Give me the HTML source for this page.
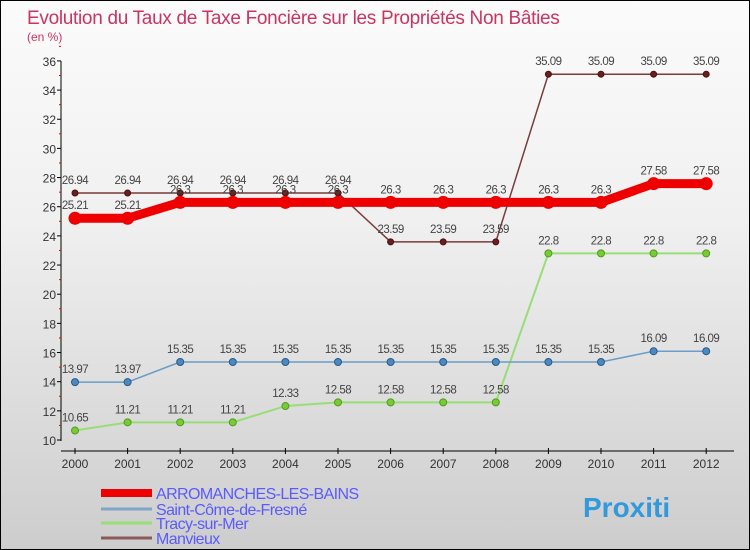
<!DOCTYPE html>
<html><head><meta charset="utf-8"><style>
body{margin:0}
#c{width:748px;height:548px;border:1px solid #000;background:linear-gradient(#fbfbfb,#f0f0f0 40%,#cdcdcd);position:relative;overflow:hidden;font-family:"Liberation Sans",sans-serif}
</style></head><body>
<div id="c">
<svg id="s" width="748" height="548" style="position:absolute;left:0;top:0">
<text x="26" y="23" font-size="19" letter-spacing="-0.3" fill="#c8355f">Evolution du Taux de Taxe Foncière sur les Propriétés Non Bâties</text>
<text x="26" y="40" font-size="12" fill="#c8355f">(en %)</text>
<g id="g"></g>
</svg>
</div>
<script>
const years=[2000,2001,2002,2003,2004,2005,2006,2007,2008,2009,2010,2011,2012];
const yTicks=[10,12,14,16,18,20,22,24,26,28,30,32,34,36];
const arro=[25.21,25.21,26.3,26.3,26.3,26.3,26.3,26.3,26.3,26.3,26.3,27.58,27.58];
const saint=[13.97,13.97,15.35,15.35,15.35,15.35,15.35,15.35,15.35,15.35,15.35,16.09,16.09];
const tracy=[10.65,11.21,11.21,11.21,12.33,12.58,12.58,12.58,12.58,22.8,22.8,22.8,22.8];
const manv=[26.94,26.94,26.94,26.94,26.94,26.94,23.59,23.59,23.59,35.09,35.09,35.09,35.09];
const names=["ARROMANCHES-LES-BAINS","Saint-Côme-de-Fresné","Tracy-sur-Mer","Manvieux"];
const NS="http://www.w3.org/2000/svg",g=document.getElementById('g');
const X=i=>74+i*52.6, Y=v=>439-(v-10)*14.58;
function el(t,a,p){const e=document.createElementNS(NS,t);for(const k in a)e.setAttribute(k,a[k]);(p||g).appendChild(e);return e;}
let ax=el('line',{x1:60,y1:60,x2:60,y2:440,stroke:'#000'});


let xa=el('line',{x1:60,y1:450,x2:733,y2:450,stroke:'#000'});


yTicks.forEach(v=>{el('line',{x1:56,x2:60,y1:Y(v),y2:Y(v),stroke:'#000'});el('line',{x1:58,x2:60,y1:Y(v+1),y2:Y(v+1),stroke:'#e00'});
 const t=el('text',{x:55,y:Y(v)+5,'font-size':12,fill:'#333','text-anchor':'end'});t.textContent=v;
 
 });
years.forEach((y,i)=>{el('line',{x1:X(i),x2:X(i),y1:447,y2:453,stroke:'#000'});
 const t=el('text',{x:X(i),y:467,'font-size':12,fill:'#333','text-anchor':'middle'});t.textContent=y;
 
 });
function series(d,col,w,dot,name){
 const p=el('polyline',{points:d.map((v,i)=>X(i)+','+Y(v)).join(' '),fill:'none',stroke:col,'stroke-width':w,'stroke-linejoin':'round'});
 
 
 d.forEach((v,i)=>{const c=el('circle',{cx:X(i),cy:Y(v),r:dot.r,fill:dot.f,stroke:dot.s});
  
  
  const t=el('text',{x:X(i),y:Y(v)-9,'font-size':11.5,fill:'#444','text-anchor':'middle','letter-spacing':'-0.5'});t.textContent=v;
  
  });
}
series(manv,'#7a3b3b',1.5,{r:3,f:'#6b1e1e',s:'#4a1010'},'manvieux');
series(tracy,'#99dd77',2,{r:3.5,f:'#77cc33',s:'#559922'},'tracy');
series(saint,'#6a9ec8',1.5,{r:3.5,f:'#4a8ac0',s:'#2a5a88'},'saint-come');
series(arro,'#ee0000',9,{r:6,f:'#ee0000',s:'#ee0000'},'arromanches');
const cols=['#ee0000','#7fa6c8','#99dd77','#8a5a5a'],ws=[8,3,3,3],ly=[492,508,522,537];
names.forEach((n,i)=>{const l=el('line',{x1:100,x2:151,y1:ly[i],y2:ly[i],stroke:cols[i],'stroke-width':ws[i]});
 
 
 const t=el('text',{x:155,y:ly[i]+6,'font-size':16,fill:'#5a5aff','letter-spacing':'-0.6'});t.textContent=n;
 
 });
const lg=el('text',{x:582,y:516,'font-size':28,'font-weight':'bold',fill:'#3399dd'});lg.textContent='Proxiti';


</script>
</body></html>
